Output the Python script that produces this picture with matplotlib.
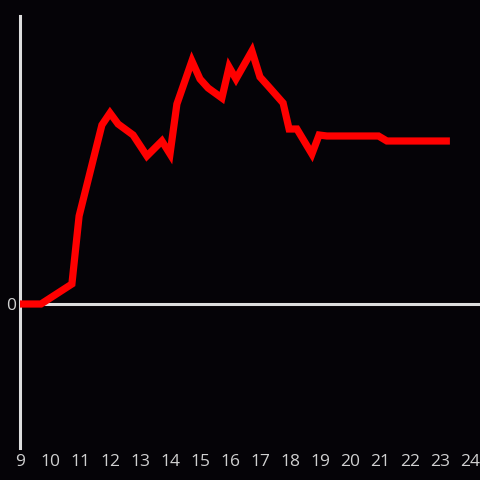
import matplotlib
matplotlib.use("Agg")
import matplotlib.pyplot as plt

# hour of day vs cumulative value (arbitrary units, 0 = baseline)
hours = [9.0, 9.7, 10.73, 10.97, 11.73, 12.0, 12.27, 12.77, 13.23, 13.73, 14.0,
         14.23, 14.73, 15.0, 15.27, 15.73, 15.97, 16.2, 16.73, 17.0, 17.27, 17.77,
         17.97, 18.23, 18.73, 18.97, 19.23, 20.95, 21.23, 23.33]
values = [0, 0, 20, 88, 179, 191, 180, 169, 148, 163, 150,
          200, 243, 225, 216, 206, 237, 225, 253, 227, 218, 201,
          175, 175, 150, 169, 168, 168, 163, 163]
xticks = list(range(9, 25))

bg = "#050307"
axis_col = "#dddddd"
label_col = "#d0d0d0"

fig = plt.figure(figsize=(4.8, 4.8), dpi=100, facecolor=bg)
ax = fig.add_axes([20 / 480, 32 / 480, 460 / 480, 432 / 480])
ax.set_facecolor(bg)

ax.set_xlim(9, 9 + 460 / 30)
ax.set_ylim(-144, 288)

ax.axhline(0, color=axis_col, lw=2.2, zorder=1)
ax.plot(hours, values, color="#ff0000", lw=5.2, solid_joinstyle="miter",
        solid_capstyle="butt", zorder=3)

for s in ["top", "right", "bottom"]:
    ax.spines[s].set_visible(False)
ax.spines["left"].set_color(axis_col)
ax.spines["left"].set_linewidth(2.2)

ax.set_xticks(xticks)
ax.set_xticklabels([str(h) for h in xticks])
ax.set_yticks([0])
ax.set_yticklabels(["0"])
ax.tick_params(axis="both", length=0, colors=label_col, labelsize=12.5)
ax.tick_params(axis="x", pad=4.5)
ax.tick_params(axis="y", pad=3)
for lbl in ax.get_xticklabels() + ax.get_yticklabels():
    lbl.set_family(["Open Sans", "DejaVu Sans"])

fig.savefig("out.png", dpi=100, facecolor=bg)
